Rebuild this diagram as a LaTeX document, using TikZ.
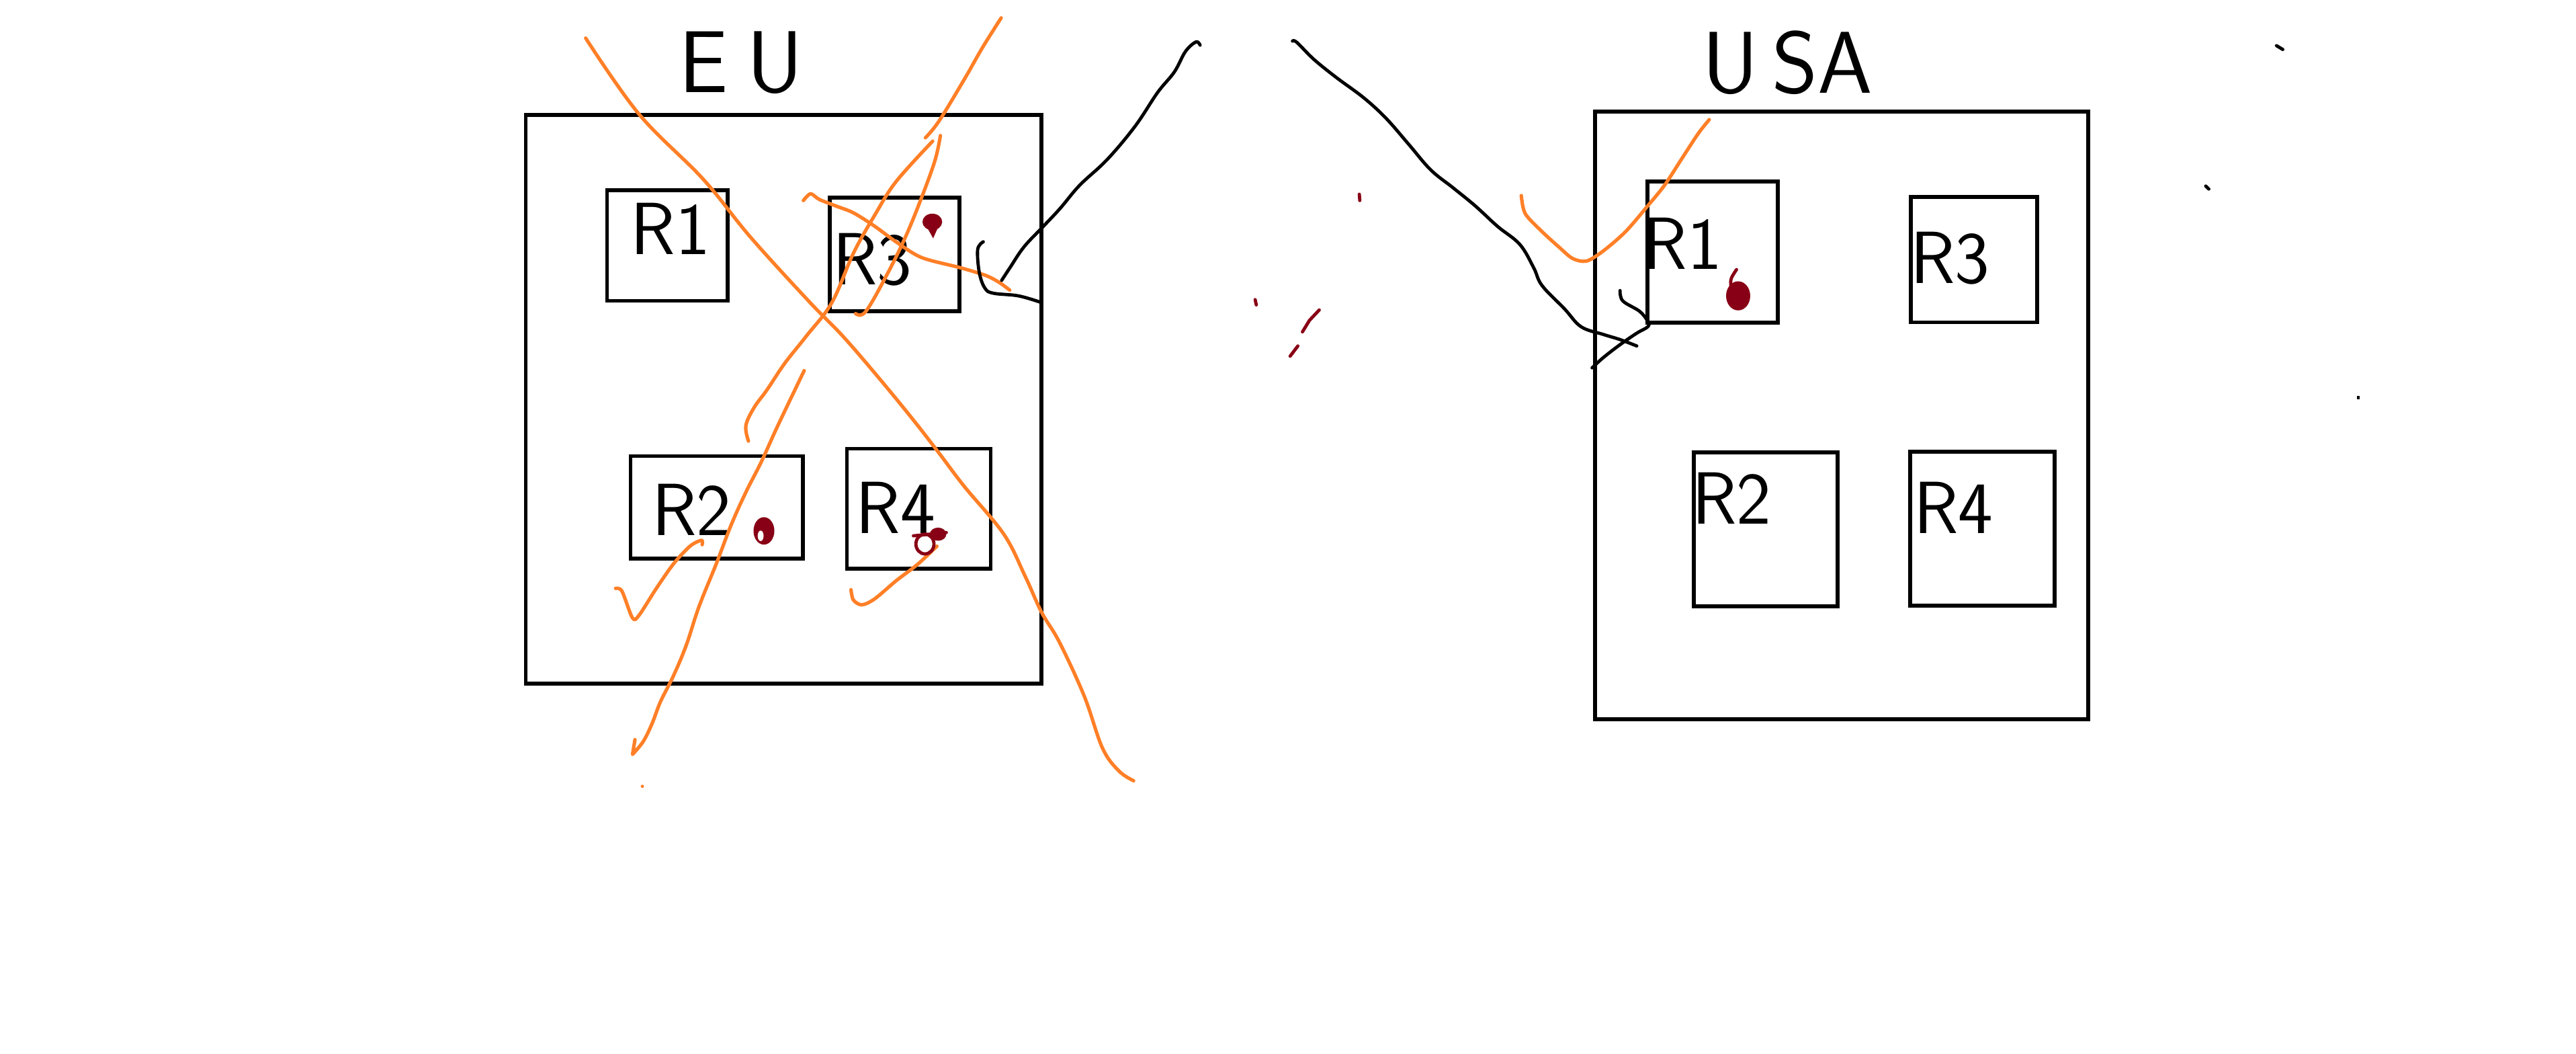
\documentclass[tikz,border=0pt]{standalone}
\usepackage{tikz}
\usetikzlibrary{fit}
\definecolor{sketchorange}{HTML}{FF7F27}
\definecolor{sketchred}{HTML}{880015}

\begin{document}
\begin{tikzpicture}[x=0.25mm,y=-0.25mm,
	region/.style={draw,line width=1.7pt,inner sep=0pt},
	lbl/.style={font=\sffamily\fontsize{32}{36}\selectfont,inner sep=0pt},
	title/.style={font=\sffamily\fontsize{38}{44}\selectfont,inner sep=0pt},
	cross/.style={draw=sketchorange,line width=1.5pt,line cap=round,line join=round},
	ink/.style={draw=black,line width=1.4pt,line cap=round,line join=round},
	blob/.style={draw=sketchred,fill=sketchred,line width=1.2pt},
	speck/.style={draw=sketchred,line width=1.4pt,line cap=round}]
	\useasboundingbox (0,0) rectangle (1568,641);

	% EU side
	\node[region,fit={(320,70) (634,416)}] (eu) {};
	\node[region,fit={(369.5,115.6) (443,183)}] (eu_r1) {};
	\node[region,fit={(505,120.4) (584,189.5)}] (eu_r3) {};
	\node[region,fit={(383.8,277.5) (488.7,340)}] (eu_r2) {};
	\node[region,fit={(515.5,273) (603,346)}] (eu_r4) {};
	\node[title] (eu_t) at (451,38) {E\hspace{8pt}U};
	\node[lbl] (eu_l1) at (408,139) {R1};
	\node[lbl] (eu_l3) at (531,158) {R3};
	\node[lbl] (eu_l2) at (421,310) {R2};
	\node[lbl] (eu_l4) at (545,309) {R4};

	% USA side
	\node[region,fit={(971,68) (1271,437.6)}] (usa) {};
	\node[region,fit={(1002.8,110.3) (1082,196.4)}] (usa_r1) {};
	\node[region,fit={(1163.2,119.7) (1240.1,196.1)}] (usa_r3) {};
	\node[region,fit={(1031.1,275.4) (1118.4,368.8)}] (usa_r2) {};
	\node[region,fit={(1162.6,274.7) (1250.6,368.5)}] (usa_r4) {};
	\node[title] (usa_t) at (1088,38) {U\hspace{6pt}SA};
	\node[lbl] (usa_l1) at (1024,148) {R1};
	\node[lbl] (usa_l3) at (1187,157) {R3};
	\node[lbl] (usa_l2) at (1054,303) {R2};
	\node[lbl] (usa_l4) at (1189,309) {R4};

	% orange strokes
	\draw[cross] plot[smooth,tension=0.6] coordinates {(356.5,23.2) (389,69.5) (428,109) (457,144.5) (493,184) (513,204.5) (535,230) (556,255.6) (571.6,275.7) (587,296) (611,325) (624,350.6) (634,372.5) (645,391) (660,423.6) (671,455) (681,469) (690,475)};
	\draw[cross] plot[smooth,tension=0.6] coordinates {(609.4,10.9) (598,29) (587.3,47.7) (571.6,73.6) (563.3,83.8)};
	\draw[cross] plot[smooth,tension=0.6] coordinates {(572.4,82.5) (569,98) (560,122.7) (551,144.5) (540.3,166.3) (527,189.5) (520.8,190.8)};
	\draw[cross] plot[smooth,tension=0.6] coordinates {(567.7,85.9) (545.5,110.4) (532.5,130.8) (519.5,154) (506.4,184) (490.8,204.5) (477.7,221) (467,237) (459,248) (454,259) (455.6,268.4)};
	\draw[cross] plot[smooth,tension=0.6] coordinates {(489.5,225.5) (483,239) (472.5,261) (463.4,281) (454,299.5) (445,319.5) (436,343) (425.5,369) (417.7,392.6) (410,411) (402,427) (397,440) (391.6,451) (385,459)} -- (386.5,450);
	\fill[sketchorange] (391,478.4) circle (1);
	\draw[cross] plot[smooth,tension=0.5] coordinates {(374.7,358) (378.6,359.7) (385,376) (389,374.3) (399.5,358) (410,343) (420,332.3) (427,328.7) (427.4,331.4)};
	\draw[cross] plot[smooth,tension=0.5] coordinates {(518,358.8) (519.4,365) (524.6,368) (532.5,364.3) (545.5,353.3) (558.6,343.3) (570.3,332.3)};
	\draw[cross] plot[smooth,tension=0.5] coordinates {(489,122) (493.4,117.9) (498.6,121.3) (509,125.4) (519.5,129.5) (532.5,137.7) (545.5,147.2) (561,156.7) (584.6,162.9) (600,167.6) (608,171.7) (614.6,176.5)};
	\draw[cross] plot[smooth,tension=0.5] coordinates {(926,119) (928.4,130) (938.6,140.9) (948.8,150.2) (957.3,157.3) (965.8,158.8) (976,152.6) (989.5,140.9) (1003,125.2) (1013.2,112.7) (1023.4,97) (1033.6,81.4) (1040.4,72.8)};

	% black strokes
	\draw[ink] plot[smooth,tension=0.6] coordinates {(730.5,27.5) (728,25.5) (721.6,31.3) (714.8,43.8) (704.6,56.3) (691,76.7) (674,97) (657.2,112.7) (645.3,126.8) (635.1,137.7) (623.3,150.2) (614.8,162.8) (609.7,170.6)};
	\draw[ink] plot[smooth,tension=0.6] coordinates {(598.5,147.1) (595.1,151.8) (596.1,165.9) (599.5,175.3) (604.6,178.4) (619.9,180) (633.4,183.9)};
	\draw[ink] plot[smooth,tension=0.6] coordinates {(786.7,25) (789.4,25.8) (799.6,36) (813.2,47) (830.1,59.5) (843.7,72) (857.3,87.6) (870.8,103.3) (884.4,114.2) (897.9,125.2) (911.5,137.7) (925.1,148.7) (933.5,162.8) (938.6,173.7) (952.2,187.8) (962.4,198.8) (976,203.5) (986.1,206.6) (996.3,210.5)};
	\draw[ink] plot[smooth,tension=0.6] coordinates {(986.1,176.8) (987.8,183.1) (998,189.4) (1003,195.6) (1003,198.8) (996.3,202.7) (986.1,209.7) (976,217.5) (969.1,223.8)};
	\draw[ink] (1385.7,27.8) -- (1389.5,30.1);
	\draw[ink] (1342.6,113.2) -- (1344.5,115);
	\fill (1434.5,241) rectangle (1436.5,243);

	% red marks
	\fill[sketchred] (567.5,135) ellipse [x radius=6,y radius=5];
	\fill[sketchred] (563,136) -- (568,145) -- (572,136) -- cycle;
	\draw[blob] (465,323) ellipse [x radius=5.5,y radius=7.5];
	\fill[white] (463,326) ellipse [x radius=1.8,y radius=3.2];
	\draw[speck] (563,331) ellipse [x radius=5.5,y radius=6];
	\fill[sketchred] (571,325) ellipse [x radius=5,y radius=4];
	\draw[speck] (556,326) -- (576,324);
	\draw[blob] (1058,180) ellipse [x radius=6.5,y radius=8];
	\draw[speck] (1054,177) .. controls (1053,170) .. (1057,164);
	\draw[speck] (827.4,118.2) -- (827.7,122);
	\draw[speck] (764,182.3) -- (764.7,185.5);
	\draw[speck] (803,188.6) -- (797,195) -- (792.8,201.9);
	\draw[speck] (790,210.5) -- (785.3,216.7);
\end{tikzpicture}
\end{document}
